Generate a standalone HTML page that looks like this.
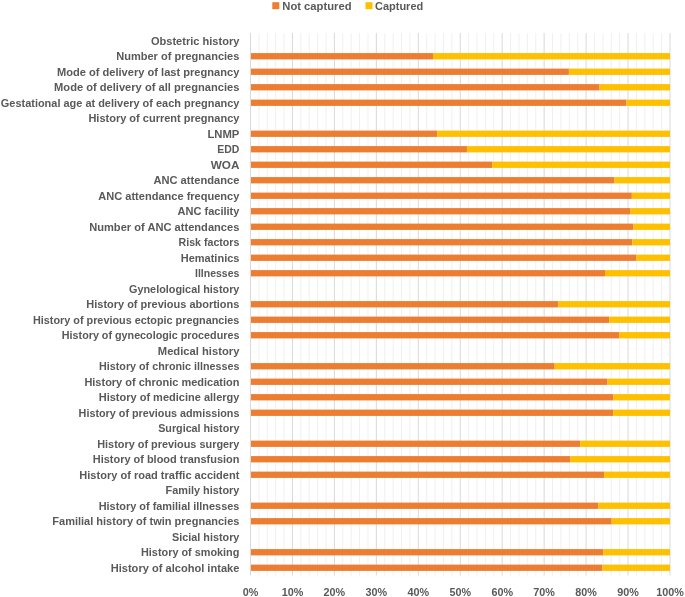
<!DOCTYPE html>
<html><head><meta charset="utf-8"><style>
html,body{margin:0;padding:0;background:#fff;}
body{width:685px;height:597px;overflow:hidden;position:relative;}
svg{position:absolute;left:0;top:0;will-change:transform;}
text{font-family:"Liberation Sans",sans-serif;font-weight:bold;fill:#595959;}
</style></head><body>
<svg width="685" height="597" viewBox="0 0 685 597">

<line x1="258.89" y1="33.0" x2="258.89" y2="575.5" stroke="#f0f0f0" stroke-width="1"/>
<line x1="267.28" y1="33.0" x2="267.28" y2="575.5" stroke="#f0f0f0" stroke-width="1"/>
<line x1="275.67" y1="33.0" x2="275.67" y2="575.5" stroke="#f0f0f0" stroke-width="1"/>
<line x1="284.06" y1="33.0" x2="284.06" y2="575.5" stroke="#f0f0f0" stroke-width="1"/>
<line x1="300.84" y1="33.0" x2="300.84" y2="575.5" stroke="#f0f0f0" stroke-width="1"/>
<line x1="309.23" y1="33.0" x2="309.23" y2="575.5" stroke="#f0f0f0" stroke-width="1"/>
<line x1="317.62" y1="33.0" x2="317.62" y2="575.5" stroke="#f0f0f0" stroke-width="1"/>
<line x1="326.01" y1="33.0" x2="326.01" y2="575.5" stroke="#f0f0f0" stroke-width="1"/>
<line x1="342.79" y1="33.0" x2="342.79" y2="575.5" stroke="#f0f0f0" stroke-width="1"/>
<line x1="351.18" y1="33.0" x2="351.18" y2="575.5" stroke="#f0f0f0" stroke-width="1"/>
<line x1="359.57" y1="33.0" x2="359.57" y2="575.5" stroke="#f0f0f0" stroke-width="1"/>
<line x1="367.96" y1="33.0" x2="367.96" y2="575.5" stroke="#f0f0f0" stroke-width="1"/>
<line x1="384.74" y1="33.0" x2="384.74" y2="575.5" stroke="#f0f0f0" stroke-width="1"/>
<line x1="393.13" y1="33.0" x2="393.13" y2="575.5" stroke="#f0f0f0" stroke-width="1"/>
<line x1="401.52" y1="33.0" x2="401.52" y2="575.5" stroke="#f0f0f0" stroke-width="1"/>
<line x1="409.91" y1="33.0" x2="409.91" y2="575.5" stroke="#f0f0f0" stroke-width="1"/>
<line x1="426.69" y1="33.0" x2="426.69" y2="575.5" stroke="#f0f0f0" stroke-width="1"/>
<line x1="435.08" y1="33.0" x2="435.08" y2="575.5" stroke="#f0f0f0" stroke-width="1"/>
<line x1="443.47" y1="33.0" x2="443.47" y2="575.5" stroke="#f0f0f0" stroke-width="1"/>
<line x1="451.86" y1="33.0" x2="451.86" y2="575.5" stroke="#f0f0f0" stroke-width="1"/>
<line x1="468.64" y1="33.0" x2="468.64" y2="575.5" stroke="#f0f0f0" stroke-width="1"/>
<line x1="477.03" y1="33.0" x2="477.03" y2="575.5" stroke="#f0f0f0" stroke-width="1"/>
<line x1="485.42" y1="33.0" x2="485.42" y2="575.5" stroke="#f0f0f0" stroke-width="1"/>
<line x1="493.81" y1="33.0" x2="493.81" y2="575.5" stroke="#f0f0f0" stroke-width="1"/>
<line x1="510.59" y1="33.0" x2="510.59" y2="575.5" stroke="#f0f0f0" stroke-width="1"/>
<line x1="518.98" y1="33.0" x2="518.98" y2="575.5" stroke="#f0f0f0" stroke-width="1"/>
<line x1="527.37" y1="33.0" x2="527.37" y2="575.5" stroke="#f0f0f0" stroke-width="1"/>
<line x1="535.76" y1="33.0" x2="535.76" y2="575.5" stroke="#f0f0f0" stroke-width="1"/>
<line x1="552.54" y1="33.0" x2="552.54" y2="575.5" stroke="#f0f0f0" stroke-width="1"/>
<line x1="560.93" y1="33.0" x2="560.93" y2="575.5" stroke="#f0f0f0" stroke-width="1"/>
<line x1="569.32" y1="33.0" x2="569.32" y2="575.5" stroke="#f0f0f0" stroke-width="1"/>
<line x1="577.71" y1="33.0" x2="577.71" y2="575.5" stroke="#f0f0f0" stroke-width="1"/>
<line x1="594.49" y1="33.0" x2="594.49" y2="575.5" stroke="#f0f0f0" stroke-width="1"/>
<line x1="602.88" y1="33.0" x2="602.88" y2="575.5" stroke="#f0f0f0" stroke-width="1"/>
<line x1="611.27" y1="33.0" x2="611.27" y2="575.5" stroke="#f0f0f0" stroke-width="1"/>
<line x1="619.66" y1="33.0" x2="619.66" y2="575.5" stroke="#f0f0f0" stroke-width="1"/>
<line x1="636.44" y1="33.0" x2="636.44" y2="575.5" stroke="#f0f0f0" stroke-width="1"/>
<line x1="644.83" y1="33.0" x2="644.83" y2="575.5" stroke="#f0f0f0" stroke-width="1"/>
<line x1="653.22" y1="33.0" x2="653.22" y2="575.5" stroke="#f0f0f0" stroke-width="1"/>
<line x1="661.61" y1="33.0" x2="661.61" y2="575.5" stroke="#f0f0f0" stroke-width="1"/>
<line x1="250.50" y1="33.0" x2="250.50" y2="575.5" stroke="#d9d9d9" stroke-width="1"/>
<line x1="292.45" y1="33.0" x2="292.45" y2="575.5" stroke="#d9d9d9" stroke-width="1"/>
<line x1="334.40" y1="33.0" x2="334.40" y2="575.5" stroke="#d9d9d9" stroke-width="1"/>
<line x1="376.35" y1="33.0" x2="376.35" y2="575.5" stroke="#d9d9d9" stroke-width="1"/>
<line x1="418.30" y1="33.0" x2="418.30" y2="575.5" stroke="#d9d9d9" stroke-width="1"/>
<line x1="460.25" y1="33.0" x2="460.25" y2="575.5" stroke="#d9d9d9" stroke-width="1"/>
<line x1="502.20" y1="33.0" x2="502.20" y2="575.5" stroke="#d9d9d9" stroke-width="1"/>
<line x1="544.15" y1="33.0" x2="544.15" y2="575.5" stroke="#d9d9d9" stroke-width="1"/>
<line x1="586.10" y1="33.0" x2="586.10" y2="575.5" stroke="#d9d9d9" stroke-width="1"/>
<line x1="628.05" y1="33.0" x2="628.05" y2="575.5" stroke="#d9d9d9" stroke-width="1"/>
<line x1="670.00" y1="33.0" x2="670.00" y2="575.5" stroke="#d9d9d9" stroke-width="1"/>
<rect x="251.00" y="53.10" width="181.98" height="6.3" fill="#ED7D31"/>
<rect x="432.98" y="53.10" width="237.02" height="6.3" fill="#FFC000"/>
<rect x="251.00" y="68.60" width="317.90" height="6.3" fill="#ED7D31"/>
<rect x="568.90" y="68.60" width="101.10" height="6.3" fill="#FFC000"/>
<rect x="251.00" y="84.10" width="348.52" height="6.3" fill="#ED7D31"/>
<rect x="599.52" y="84.10" width="70.48" height="6.3" fill="#FFC000"/>
<rect x="251.00" y="99.60" width="375.37" height="6.3" fill="#ED7D31"/>
<rect x="626.37" y="99.60" width="43.63" height="6.3" fill="#FFC000"/>
<rect x="251.00" y="130.60" width="186.18" height="6.3" fill="#ED7D31"/>
<rect x="437.18" y="130.60" width="232.82" height="6.3" fill="#FFC000"/>
<rect x="251.00" y="146.10" width="215.96" height="6.3" fill="#ED7D31"/>
<rect x="466.96" y="146.10" width="203.04" height="6.3" fill="#FFC000"/>
<rect x="251.00" y="161.60" width="241.13" height="6.3" fill="#ED7D31"/>
<rect x="492.13" y="161.60" width="177.87" height="6.3" fill="#FFC000"/>
<rect x="251.00" y="177.10" width="363.21" height="6.3" fill="#ED7D31"/>
<rect x="614.21" y="177.10" width="55.79" height="6.3" fill="#FFC000"/>
<rect x="251.00" y="192.60" width="380.83" height="6.3" fill="#ED7D31"/>
<rect x="631.83" y="192.60" width="38.17" height="6.3" fill="#FFC000"/>
<rect x="251.00" y="208.10" width="379.57" height="6.3" fill="#ED7D31"/>
<rect x="630.57" y="208.10" width="39.43" height="6.3" fill="#FFC000"/>
<rect x="251.00" y="223.60" width="382.50" height="6.3" fill="#ED7D31"/>
<rect x="633.50" y="223.60" width="36.50" height="6.3" fill="#FFC000"/>
<rect x="251.00" y="239.10" width="381.25" height="6.3" fill="#ED7D31"/>
<rect x="632.25" y="239.10" width="37.75" height="6.3" fill="#FFC000"/>
<rect x="251.00" y="254.60" width="385.44" height="6.3" fill="#ED7D31"/>
<rect x="636.44" y="254.60" width="33.56" height="6.3" fill="#FFC000"/>
<rect x="251.00" y="270.10" width="353.98" height="6.3" fill="#ED7D31"/>
<rect x="604.98" y="270.10" width="65.02" height="6.3" fill="#FFC000"/>
<rect x="251.00" y="301.10" width="307.41" height="6.3" fill="#ED7D31"/>
<rect x="558.41" y="301.10" width="111.59" height="6.3" fill="#FFC000"/>
<rect x="251.00" y="316.60" width="358.17" height="6.3" fill="#ED7D31"/>
<rect x="609.17" y="316.60" width="60.83" height="6.3" fill="#FFC000"/>
<rect x="251.00" y="332.10" width="368.24" height="6.3" fill="#ED7D31"/>
<rect x="619.24" y="332.10" width="50.76" height="6.3" fill="#FFC000"/>
<rect x="251.00" y="363.10" width="303.64" height="6.3" fill="#ED7D31"/>
<rect x="554.64" y="363.10" width="115.36" height="6.3" fill="#FFC000"/>
<rect x="251.00" y="378.60" width="356.49" height="6.3" fill="#ED7D31"/>
<rect x="607.49" y="378.60" width="62.51" height="6.3" fill="#FFC000"/>
<rect x="251.00" y="394.10" width="362.37" height="6.3" fill="#ED7D31"/>
<rect x="613.37" y="394.10" width="56.63" height="6.3" fill="#FFC000"/>
<rect x="251.00" y="409.60" width="362.37" height="6.3" fill="#ED7D31"/>
<rect x="613.37" y="409.60" width="56.63" height="6.3" fill="#FFC000"/>
<rect x="251.00" y="440.60" width="329.23" height="6.3" fill="#ED7D31"/>
<rect x="580.23" y="440.60" width="89.77" height="6.3" fill="#FFC000"/>
<rect x="251.00" y="456.10" width="319.16" height="6.3" fill="#ED7D31"/>
<rect x="570.16" y="456.10" width="99.84" height="6.3" fill="#FFC000"/>
<rect x="251.00" y="471.60" width="353.14" height="6.3" fill="#ED7D31"/>
<rect x="604.14" y="471.60" width="65.86" height="6.3" fill="#FFC000"/>
<rect x="251.00" y="502.60" width="347.27" height="6.3" fill="#ED7D31"/>
<rect x="598.27" y="502.60" width="71.73" height="6.3" fill="#FFC000"/>
<rect x="251.00" y="518.10" width="360.69" height="6.3" fill="#ED7D31"/>
<rect x="611.69" y="518.10" width="58.31" height="6.3" fill="#FFC000"/>
<rect x="251.00" y="549.10" width="352.30" height="6.3" fill="#ED7D31"/>
<rect x="603.30" y="549.10" width="66.70" height="6.3" fill="#FFC000"/>
<rect x="251.00" y="564.60" width="351.46" height="6.3" fill="#ED7D31"/>
<rect x="602.46" y="564.60" width="67.54" height="6.3" fill="#FFC000"/>
<text x="239.4" y="44.52" font-size="10.95" text-anchor="end" textLength="88.5" lengthAdjust="spacingAndGlyphs">Obstetric history</text>
<text x="239.4" y="60.02" font-size="10.95" text-anchor="end" textLength="123.2" lengthAdjust="spacingAndGlyphs">Number of pregnancies</text>
<text x="239.4" y="75.52" font-size="10.95" text-anchor="end" textLength="182.5" lengthAdjust="spacingAndGlyphs">Mode of delivery of last pregnancy</text>
<text x="239.4" y="91.02" font-size="10.95" text-anchor="end" textLength="185.3" lengthAdjust="spacingAndGlyphs">Mode of delivery of all pregnancies</text>
<text x="239.4" y="106.52" font-size="10.95" text-anchor="end" textLength="238.6" lengthAdjust="spacingAndGlyphs">Gestational age at delivery of each pregnancy</text>
<text x="239.4" y="122.02" font-size="10.95" text-anchor="end" textLength="151.0" lengthAdjust="spacingAndGlyphs">History of current pregnancy</text>
<text x="239.4" y="137.52" font-size="10.95" text-anchor="end" textLength="32.0" lengthAdjust="spacingAndGlyphs">LNMP</text>
<text x="239.4" y="153.02" font-size="10.95" text-anchor="end" textLength="22.1" lengthAdjust="spacingAndGlyphs">EDD</text>
<text x="239.4" y="168.52" font-size="10.95" text-anchor="end" textLength="28.7" lengthAdjust="spacingAndGlyphs">WOA</text>
<text x="239.4" y="184.02" font-size="10.95" text-anchor="end" textLength="86.0" lengthAdjust="spacingAndGlyphs">ANC attendance</text>
<text x="239.4" y="199.52" font-size="10.95" text-anchor="end" textLength="141.1" lengthAdjust="spacingAndGlyphs">ANC attendance frequency</text>
<text x="239.4" y="215.02" font-size="10.95" text-anchor="end" textLength="61.9" lengthAdjust="spacingAndGlyphs">ANC facility</text>
<text x="239.4" y="230.52" font-size="10.95" text-anchor="end" textLength="150.2" lengthAdjust="spacingAndGlyphs">Number of ANC attendances</text>
<text x="239.4" y="246.02" font-size="10.95" text-anchor="end" textLength="60.8" lengthAdjust="spacingAndGlyphs">Risk factors</text>
<text x="239.4" y="261.52" font-size="10.95" text-anchor="end" textLength="58.6" lengthAdjust="spacingAndGlyphs">Hematinics</text>
<text x="239.4" y="277.02" font-size="10.95" text-anchor="end" textLength="44.4" lengthAdjust="spacingAndGlyphs">Illnesses</text>
<text x="239.4" y="292.52" font-size="10.95" text-anchor="end" textLength="110.4" lengthAdjust="spacingAndGlyphs">Gynelological history</text>
<text x="239.4" y="308.02" font-size="10.95" text-anchor="end" textLength="153.1" lengthAdjust="spacingAndGlyphs">History of previous abortions</text>
<text x="239.4" y="323.52" font-size="10.95" text-anchor="end" textLength="206.4" lengthAdjust="spacingAndGlyphs">History of previous ectopic pregnancies</text>
<text x="239.4" y="339.02" font-size="10.95" text-anchor="end" textLength="177.6" lengthAdjust="spacingAndGlyphs">History of gynecologic procedures</text>
<text x="239.4" y="354.52" font-size="10.95" text-anchor="end" textLength="81.6" lengthAdjust="spacingAndGlyphs">Medical history</text>
<text x="239.4" y="370.02" font-size="10.95" text-anchor="end" textLength="140.4" lengthAdjust="spacingAndGlyphs">History of chronic illnesses</text>
<text x="239.4" y="385.52" font-size="10.95" text-anchor="end" textLength="155.0" lengthAdjust="spacingAndGlyphs">History of chronic medication</text>
<text x="239.4" y="401.02" font-size="10.95" text-anchor="end" textLength="140.7" lengthAdjust="spacingAndGlyphs">History of medicine allergy</text>
<text x="239.4" y="416.52" font-size="10.95" text-anchor="end" textLength="160.8" lengthAdjust="spacingAndGlyphs">History of previous admissions</text>
<text x="239.4" y="432.02" font-size="10.95" text-anchor="end" textLength="81.2" lengthAdjust="spacingAndGlyphs">Surgical history</text>
<text x="239.4" y="447.52" font-size="10.95" text-anchor="end" textLength="142.2" lengthAdjust="spacingAndGlyphs">History of previous surgery</text>
<text x="239.4" y="463.02" font-size="10.95" text-anchor="end" textLength="146.6" lengthAdjust="spacingAndGlyphs">History of blood transfusion</text>
<text x="239.4" y="478.52" font-size="10.95" text-anchor="end" textLength="160.1" lengthAdjust="spacingAndGlyphs">History of road traffic accident</text>
<text x="239.4" y="494.02" font-size="10.95" text-anchor="end" textLength="73.9" lengthAdjust="spacingAndGlyphs">Family history</text>
<text x="239.4" y="509.52" font-size="10.95" text-anchor="end" textLength="140.7" lengthAdjust="spacingAndGlyphs">History of familial illnesses</text>
<text x="239.4" y="525.02" font-size="10.95" text-anchor="end" textLength="187.1" lengthAdjust="spacingAndGlyphs">Familial history of twin pregnancies</text>
<text x="239.4" y="540.52" font-size="10.95" text-anchor="end" textLength="67.4" lengthAdjust="spacingAndGlyphs">Sicial history</text>
<text x="239.4" y="556.02" font-size="10.95" text-anchor="end" textLength="98.4" lengthAdjust="spacingAndGlyphs">History of smoking</text>
<text x="239.4" y="571.52" font-size="10.95" text-anchor="end" textLength="128.7" lengthAdjust="spacingAndGlyphs">History of alcohol intake</text>
<text x="250.50" y="596.0" font-size="10.8" text-anchor="middle">0%</text>
<text x="292.45" y="596.0" font-size="10.8" text-anchor="middle">10%</text>
<text x="334.40" y="596.0" font-size="10.8" text-anchor="middle">20%</text>
<text x="376.35" y="596.0" font-size="10.8" text-anchor="middle">30%</text>
<text x="418.30" y="596.0" font-size="10.8" text-anchor="middle">40%</text>
<text x="460.25" y="596.0" font-size="10.8" text-anchor="middle">50%</text>
<text x="502.20" y="596.0" font-size="10.8" text-anchor="middle">60%</text>
<text x="544.15" y="596.0" font-size="10.8" text-anchor="middle">70%</text>
<text x="586.10" y="596.0" font-size="10.8" text-anchor="middle">80%</text>
<text x="628.05" y="596.0" font-size="10.8" text-anchor="middle">90%</text>
<text x="670.00" y="596.0" font-size="10.8" text-anchor="middle">100%</text>
<rect x="272.3" y="2.2" width="7" height="7" fill="#ED7D31"/>
<text x="282.3" y="9.9" font-size="10.95" textLength="69.2" lengthAdjust="spacingAndGlyphs">Not captured</text>
<rect x="365.5" y="2.2" width="7" height="7" fill="#FFC000"/>
<text x="375.0" y="9.9" font-size="10.95" textLength="48.2" lengthAdjust="spacingAndGlyphs">Captured</text>

</svg>
</body></html>
